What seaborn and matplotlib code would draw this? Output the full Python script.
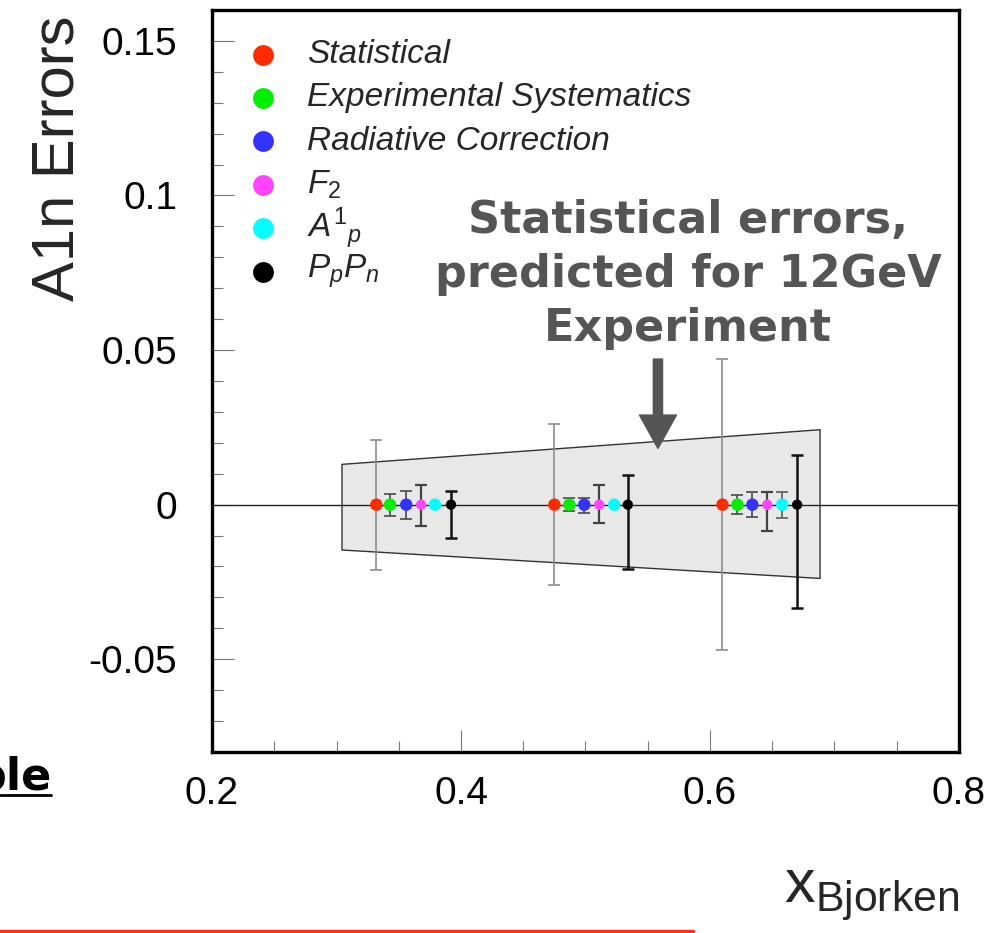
import matplotlib
matplotlib.use("Agg")
import matplotlib.pyplot as plt
import seaborn as sns
import pandas as pd
import numpy as np
from matplotlib.lines import Line2D
from matplotlib.ticker import MultipleLocator, FixedLocator, FixedFormatter

# ---------------- data ----------------
sources = ["Statistical", "Experimental Systematics", "Radiative Correction",
           "F2", "A1p", "PpPn"]
legend_labels = ["Statistical", "Experimental Systematics", "Radiative Correction",
                 r"$F_{2}$", r"$A^{1}{}_{p}$", r"$P_{p}P_{n}$"]
colors = ["#ff2a00", "#00f000", "#3333ff", "#ff44ff", "#00ffff", "#000000"]

x_stat = [0.332, 0.475, 0.610]
x_exp = [0.343, 0.487, 0.622]
x_rad = [0.356, 0.499, 0.634]
x_f2 = [0.368, 0.511, 0.646]
x_a1p = [0.379, 0.523, 0.658]
x_pp = [0.392, 0.534, 0.670]

y_value = [0.0, 0.0, 0.0]

err_stat_up = [0.021, 0.026, 0.047]
err_stat_lo = [0.021, 0.026, 0.047]
err_exp_up = [0.0036, 0.0020, 0.0030]
err_exp_lo = [0.0036, 0.0020, 0.0030]
err_rad_up = [0.0045, 0.0023, 0.0040]
err_rad_lo = [0.0045, 0.0026, 0.0040]
err_f2_up = [0.0062, 0.0065, 0.0040]
err_f2_lo = [0.0068, 0.0058, 0.0085]
err_a1p_up = [0.0, 0.0, 0.0042]
err_a1p_lo = [0.0, 0.0, 0.0042]
err_pp_up = [0.0045, 0.0097, 0.0160]
err_pp_lo = [0.0107, 0.0207, 0.0334]

band_x = [0.304, 0.688]
band_upper = [0.0132, 0.0244]
band_lower = [-0.0145, -0.0237]

x_ticks = [0.2, 0.4, 0.6, 0.8]
x_tick_labels = ["0.2", "0.4", "0.6", "0.8"]
y_ticks = [-0.05, 0.0, 0.05, 0.1, 0.15]
y_tick_labels = ["-0.05", "0", "0.05", "0.1", "0.15"]

annotation_text = "Statistical errors,\npredicted for 12GeV\nExperiment"

# ---------------- style ----------------
sns.set_theme(style="white")
plt.rcParams["font.family"] = ["Liberation Sans", "DejaVu Sans"]
plt.rcParams["mathtext.fontset"] = "custom"
plt.rcParams["mathtext.rm"] = "Liberation Sans"
plt.rcParams["mathtext.it"] = "Liberation Sans:italic"
plt.rcParams["mathtext.default"] = "it"

xs = [x_stat, x_exp, x_rad, x_f2, x_a1p, x_pp]
ups = [err_stat_up, err_exp_up, err_rad_up, err_f2_up, err_a1p_up, err_pp_up]
los = [err_stat_lo, err_exp_lo, err_rad_lo, err_f2_lo, err_a1p_lo, err_pp_lo]

df = pd.DataFrame({
    "x": np.concatenate(xs),
    "y": np.concatenate([y_value] * len(sources)),
    "source": np.repeat(sources, 3),
})

fig = plt.figure(figsize=(10.03, 9.33), dpi=100)
ax = fig.add_axes([212 / 1003, 1 - 752 / 933, 747 / 1003, 742 / 933])

# shaded band
ax.fill_between(band_x, band_lower, band_upper, facecolor="#e8e8e8",
                edgecolor="#333333", linewidth=1.0, zorder=1)
# zero line
ax.axhline(0.0, color="#222222", lw=1.0, zorder=2)

# error bars
bar_colors = ["#8c8c8c", "#555555", "#555555", "#444444", "#666666", "#111111"]
bar_lw = [1.2, 1.3, 1.3, 1.6, 1.3, 1.8]
for xv, up, lo, bc, lw in zip(xs, ups, los, bar_colors, bar_lw):
    ax.errorbar(xv, y_value, yerr=[lo, up], fmt="none", ecolor=bc,
                elinewidth=lw, capsize=4.5, capthick=lw, zorder=3)

# points
sizes = {"Statistical": 80, "Experimental Systematics": 80, "Radiative Correction": 80,
         "F2": 55, "A1p": 80, "PpPn": 55}
sns.scatterplot(data=df, x="x", y="y", hue="source", palette=dict(zip(sources, colors)),
                size="source", sizes=sizes, edgecolor="none", legend=False,
                ax=ax, zorder=4)

# axes limits / ticks
ax.set_xlim(0.2, 0.8)
ax.set_ylim(-0.08, 0.16)
ax.xaxis.set_major_locator(FixedLocator(x_ticks))
ax.xaxis.set_major_formatter(FixedFormatter(x_tick_labels))
ax.yaxis.set_major_locator(FixedLocator(y_ticks))
ax.yaxis.set_major_formatter(FixedFormatter(y_tick_labels))
ax.xaxis.set_minor_locator(MultipleLocator(0.05))
ax.yaxis.set_minor_locator(MultipleLocator(0.01))
ax.tick_params(which="both", direction="in", bottom=True, left=True, top=False,
               right=False, color="#777777", width=0.8, labelcolor="black")
ax.tick_params(which="major", length=15.5, labelsize=28)
ax.tick_params(axis="y", which="major", pad=25)
ax.tick_params(axis="x", which="major", pad=17)
ax.tick_params(which="minor", length=7.7)
for sp in ax.spines.values():
    sp.set_visible(True)
    sp.set_color("black")
    sp.set_linewidth(2.4)

ax.set_ylabel("A1n Errors", fontsize=43, loc="top")
ax.yaxis.set_label_coords(-0.17, 0.993)
ax.set_xlabel(r"$\mathrm{x}_{\mathrm{Bjorken}}$", fontsize=44, loc="right")
ax.xaxis.set_label_coords(1.0, -0.154)

# legend (manual, uniform spacing)
leg_x_marker = 0.0683
leg_x_text = 0.127
leg_y0 = 0.940
leg_dy = 0.0585
for i, (lab, c) in enumerate(zip(legend_labels, colors)):
    yy = leg_y0 - i * leg_dy
    ax.add_line(Line2D([leg_x_marker], [yy], marker="o", ms=15, color=c, mec="none",
                       linestyle="none", transform=ax.transAxes, clip_on=False))
    ax.text(leg_x_text, yy, lab, transform=ax.transAxes, fontsize=24,
            style="italic", va="center", ha="left")

# annotation
ax.text(0.5823, 0.0745, annotation_text, ha="center", va="center", fontsize=32,
        fontweight="bold", color="#555555", family="DejaVu Sans", linespacing=1.33,
        zorder=5)
ax.annotate("", xy=(0.5582, 0.0182), xytext=(0.5582, 0.0471),
            arrowprops=dict(arrowstyle="simple,head_length=1.2,head_width=1.33,tail_width=0.33",
                            mutation_scale=20, color="#555555", shrinkA=0, shrinkB=0),
            zorder=5)

# slide remnants
fig.text(51 / 1003, 1 - 790 / 933, "ple", ha="right", va="baseline", fontsize=32,
         fontweight="bold", family="DejaVu Sans", color="black")
fig.add_artist(Line2D([0, 51 / 1003], [1 - 795 / 933] * 2, color="black", lw=2.0,
                      transform=fig.transFigure))
fig.add_artist(Line2D([0, 693 / 1003], [1 - 930.5 / 933] * 2, color="#ff3311", lw=2.5,
                      transform=fig.transFigure))

fig.savefig("out.png", dpi=100)
